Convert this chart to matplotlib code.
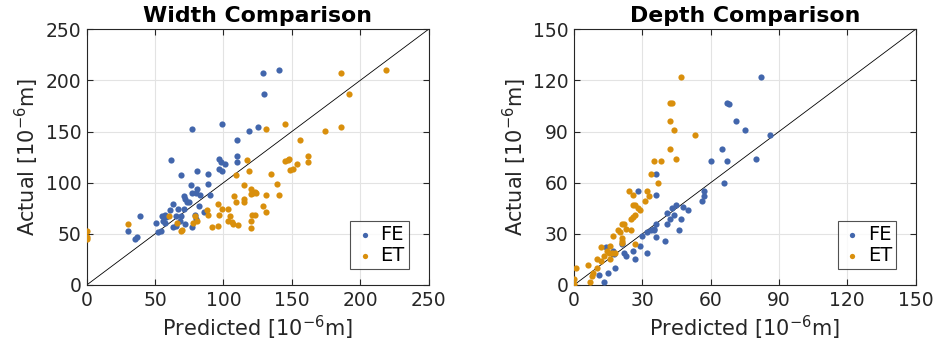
import matplotlib
matplotlib.use("Agg")
import matplotlib.pyplot as plt

plt.rcParams['font.family'] = ['DejaVu Sans']
plt.rcParams['mathtext.default'] = 'regular'

# ---- Width comparison data (predicted, actual) ----
width_fe_pred = [129, 141, 130, 77, 99, 119, 125, 110, 62, 97, 98, 110, 110, 101, 97, 99, 69, 81, 89,
                 76, 81, 89, 77, 80, 83, 71, 90, 72, 73, 75, 63, 82, 67, 71, 61, 57, 55, 58, 56, 57,
                 65, 69, 68, 72, 65, 63, 79, 80, 86, 77, 51, 39, 30, 54, 52, 37, 35]
width_fe_act = [207, 210, 187, 153, 157, 151, 154, 142, 122, 123, 120, 126, 120, 118, 113, 111, 108, 111, 109,
                98, 94, 99, 90, 90, 88, 87, 88, 84, 81, 81, 79, 77, 74, 74, 73, 68, 67, 66, 63, 61,
                67, 67, 63, 60, 58, 57, 68, 65, 71, 57, 61, 67, 53, 53, 52, 47, 45]
width_et_pred = [117, 119, 109, 186, 219, 192, 131, 145, 174, 186, 156, 145, 147, 148, 162, 162, 154, 149, 151,
                 135, 139, 124, 131, 141, 129, 131, 123, 115, 120, 123, 122, 120, 108, 115, 115, 109, 96, 99,
                 103, 88, 89, 97, 105, 103, 106, 107, 111, 120, 121, 120, 81, 79, 78, 96, 92, 60, 66, 70, 69,
                 30, 0, 0, 0]
width_et_act = [122, 111, 108, 207, 210, 187, 153, 157, 151, 154, 142, 121, 122, 123, 126, 120, 118, 112, 113,
                109, 99, 90, 88, 88, 77, 71, 68, 98, 94, 91, 90, 89, 87, 84, 81, 81, 79, 74,
                74, 73, 68, 68, 67, 63, 62, 60, 59, 63, 68, 56, 63, 67, 61, 58, 57, 67, 61, 54, 53,
                60, 53, 47, 45]

# ---- Depth comparison data (predicted, actual) ----
depth_fe_pred = [36, 67, 68, 71, 75, 65, 60, 67, 82, 86, 80, 36, 28, 66, 57, 57, 56, 45, 43, 48, 50,
                 41, 44, 42, 47, 41, 36, 35, 34, 35, 32, 30, 46, 36, 40, 29, 32, 21, 26, 14, 17,
                 17.5, 22, 23, 27, 18, 15, 11, 13]
depth_fe_act = [65, 107, 106, 96, 91, 80, 73, 73, 122, 88, 74, 53, 55, 60, 55, 52, 49, 47, 45, 46, 44,
                42, 41, 39, 39, 36, 36, 33, 32, 32, 31, 29, 32, 28, 26, 23, 19, 24, 20, 22, 20,
                18, 19, 17, 15, 10, 7, 6, 2]
depth_et_pred = [47, 42, 43, 42, 44, 53, 42, 35, 38, 45, 34, 37, 24, 26, 32, 33, 31, 26, 27, 28, 29,
                 27, 25, 26, 22, 21, 23, 25, 19.5, 20, 17, 21, 21, 21, 27, 16, 12, 14.6, 15.4, 16.5,
                 18, 13, 10, 12, 16, 6, 10, 1, 8.5, 8, 0.2, 7, 0]
depth_et_act = [122, 107, 107, 96, 91, 88, 80, 73, 73, 74, 65, 60, 55, 53, 55, 52, 49, 47, 47, 45, 44,
                41, 39, 40, 36, 36, 33, 32, 32, 31, 29, 27.5, 26, 24.5, 24, 23, 22, 20, 19, 19,
                19, 17, 15, 14, 15, 12, 10, 10, 7, 5, 3.4, 2, 0.5]

width_ticks = [0, 50, 100, 150, 200, 250]
depth_ticks = [0, 30, 60, 90, 120, 150]
titles = ["Width Comparison", "Depth Comparison"]
series_labels = ["FE", "ET"]

BLUE = "#4266AC"
ORANGE = "#D98F0C"
DARK = "#262626"

W, H = 935, 350
fig = plt.figure(figsize=(W / 100, H / 100), dpi=100)

ax1 = fig.add_axes([86.7 / W, (H - 285) / H, (428.5 - 86.7) / W, (285 - 29.3) / H])
ax2 = fig.add_axes([574 / W, (H - 285) / H, (915.6 - 574) / W, (285 - 29.3) / H])

panels = [
    (ax1, width_fe_pred, width_fe_act, width_et_pred, width_et_act, width_ticks, titles[0]),
    (ax2, depth_fe_pred, depth_fe_act, depth_et_pred, depth_et_act, depth_ticks, titles[1]),
]

for ax, fx, fy, ex, ey, ticks, title in panels:
    lim = (ticks[0], ticks[-1])
    ax.plot(lim, lim, color="black", lw=0.6, zorder=2)
    ax.scatter(fx, fy, s=20, color=BLUE, label=series_labels[0], zorder=3, linewidths=0)
    ax.scatter(ex, ey, s=20, color=ORANGE, label=series_labels[1], zorder=3, linewidths=0)
    ax.set_xlim(lim)
    ax.set_ylim(lim)
    ax.set_xticks(ticks)
    ax.set_yticks(ticks)
    ax.grid(True, color="#E3E3E3", lw=0.8, zorder=0)
    ax.set_axisbelow(True)
    ax.tick_params(direction="in", top=True, right=True, length=4, width=0.8,
                   labelsize=13.5, colors=DARK, pad=4)
    for sp in ax.spines.values():
        sp.set_color(DARK)
        sp.set_linewidth(0.8)
    ax.set_title(title, fontsize=15.8, fontweight="bold", pad=5)
    ax.set_xlabel("Predicted [10$^{-6}$m]", fontsize=15, color=DARK, labelpad=3)
    ax.set_ylabel("Actual [10$^{-6}$m]", fontsize=15, color=DARK, labelpad=3)
    leg = ax.legend(loc="lower right", bbox_to_anchor=(0.942, 0.063), borderaxespad=0,
                    fontsize=14, frameon=True, fancybox=False,
                    handletextpad=0.25, handlelength=1.1, borderpad=0.2,
                    markerscale=0.85, labelspacing=0.12)
    leg.get_frame().set_edgecolor(DARK)
    leg.get_frame().set_linewidth(0.8)

fig.savefig("out.png", dpi=100)
